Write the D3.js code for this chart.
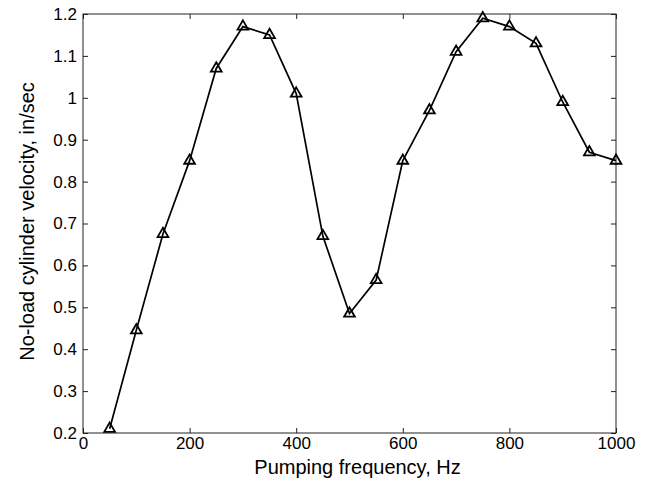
<!DOCTYPE html>
<html>
<head>
<meta charset="utf-8">
<script src="https://cdn.jsdelivr.net/npm/d3@7"></script>
<style>
  body { margin: 0; background: #fff; }
  text { font-family: "Liberation Sans", Arial, sans-serif; fill: #000; }
</style>
</head>
<body>
<script>
var frequency = [50, 100, 150, 200, 250, 300, 350, 400, 450, 500,
                 550, 600, 650, 700, 750, 800, 850, 900, 950, 1000];
var velocity = [0.21, 0.445, 0.675, 0.85, 1.07, 1.17, 1.15, 1.01, 0.67, 0.485,
                0.565, 0.85, 0.97, 1.11, 1.19, 1.17, 1.13, 0.99, 0.87, 0.85];
var xTicks = [0, 200, 400, 600, 800, 1000];
var yTicks = [0.2, 0.3, 0.4, 0.5, 0.6, 0.7, 0.8, 0.9, 1, 1.1, 1.2];

function init() {
    var w = 648, h = 480;
    var left = 83, right = 616, top = 14, bottom = 433;

    var svg = d3.select("body").append("svg")
        .attr("width", w).attr("height", h);

    var x = d3.scaleLinear().domain([0, 1000]).range([left, right]);
    var y = d3.scaleLinear().domain([0.2, 1.2]).range([bottom, top]);

    // box
    svg.append("rect")
        .attr("x", left).attr("y", top)
        .attr("width", right - left).attr("height", bottom - top)
        .attr("fill", "none").attr("stroke", "#222").attr("stroke-width", 1);

    // axes, ticks pointing inward like matlab
    var fmt = function (d) { return d3.format("")(+d.toFixed(1)); };
    var xb = svg.append("g").attr("transform", "translate(0," + bottom + ")")
        .call(d3.axisBottom(x).tickValues(xTicks).tickSize(-5).tickPadding(4).tickFormat(d3.format("d")));
    var xt = svg.append("g").attr("transform", "translate(0," + top + ")")
        .call(d3.axisTop(x).tickValues(xTicks).tickSize(-5).tickFormat(""));
    var yl = svg.append("g").attr("transform", "translate(" + left + ",0)")
        .call(d3.axisLeft(y).tickValues(yTicks).tickSize(-5).tickPadding(6).tickFormat(fmt));
    var yr = svg.append("g").attr("transform", "translate(" + right + ",0)")
        .call(d3.axisRight(y).tickValues(yTicks).tickSize(-5).tickFormat(""));

    [xb, xt, yl, yr].forEach(function (g) {
        g.select(".domain").remove();
        g.selectAll("line").attr("stroke", "#222");
        g.selectAll("text").style("font-size", "17px")
            .style("font-family", "'Liberation Sans', Arial, sans-serif");
    });

    var pts = frequency.map(function (f, i) { return [f, velocity[i]]; });

    svg.append("path")
        .datum(pts)
        .attr("fill", "none")
        .attr("stroke", "#000")
        .attr("stroke-width", 1.7)
        .attr("d", d3.line().x(function (d) { return x(d[0]); }).y(function (d) { return y(d[1]); }));

    var tri = d3.symbol().type(d3.symbolTriangle).size(50);
    svg.selectAll(".mk").data(pts).enter().append("path")
        .attr("class", "mk")
        .attr("d", tri)
        .attr("transform", function (d) { return "translate(" + x(d[0]) + "," + y(d[1]) + ")"; })
        .attr("fill", "none")
        .attr("stroke", "#000")
        .attr("stroke-width", 1.8);

    svg.append("text")
        .attr("x", (left + right) / 2 + 8).attr("y", 474)
        .attr("text-anchor", "middle")
        .style("font-size", "20px")
        .text("Pumping frequency, Hz");

    svg.append("text")
        .attr("transform", "translate(34," + ((top + bottom) / 2 - 2) + ") rotate(-90)")
        .attr("text-anchor", "middle")
        .style("font-size", "20px")
        .text("No-load cylinder velocity, in/sec");
}

window.onload = init;
</script>
</body>
</html>
